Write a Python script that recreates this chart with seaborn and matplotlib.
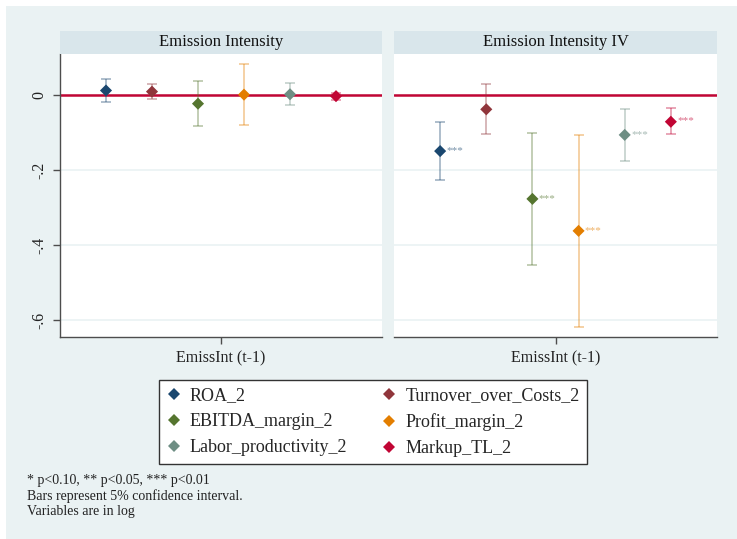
"""
Coefficient plot: emission intensity (t-1) effect on firm outcomes, OLS vs IV
"""
import pandas as pd
import numpy as np
import matplotlib.pyplot as plt
import matplotlib.patches as mpatches
from matplotlib.lines import Line2D
import seaborn as sns

sns.set_theme(style='white')
plt.rcParams['font.family'] = ['Liberation Serif', 'DejaVu Serif']

# --- data ---
outcomes = ['ROA_2', 'Turnover_over_Costs_2', 'EBITDA_margin_2',
            'Profit_margin_2', 'Labor_productivity_2', 'Markup_TL_2']
colors = ['#1a476f', '#90353b', '#55752f', '#e37e00', '#6e8e84', '#c10534']
panels = ['Emission Intensity', 'Emission Intensity IV']

coef_ols = [0.011, 0.008, -0.024, 0.000, 0.001, -0.004]
lo_ols = [-0.019, -0.012, -0.082, -0.081, -0.028, -0.013]
hi_ols = [0.041, 0.028, 0.035, 0.081, 0.030, 0.005]
stars_ols = ['', '', '', '', '', '']

coef_iv = [-0.150, -0.039, -0.277, -0.362, -0.107, -0.072]
lo_iv = [-0.227, -0.105, -0.454, -0.618, -0.176, -0.105]
hi_iv = [-0.074, 0.028, -0.101, -0.108, -0.038, -0.036]
stars_iv = ['***', '', '***', '***', '***', '***']

yticks = [0, -0.2, -0.4, -0.6]
ytick_labels = ['0', '-.2', '-.4', '-.6']
xlabel = 'EmissInt (t-1)'
notes = ['* p<0.10, ** p<0.05, *** p<0.01',
         'Bars represent 5% confidence interval.',
         'Variables are in log']

BG = '#eaf2f3'
STRIP = '#d9e6eb'
AXC = '#4d4d4d'

W, H = 737, 539
fig = plt.figure(figsize=(W / 100, H / 100), dpi=100, facecolor='white')
fig.patches.append(mpatches.Rectangle((6 / W, 0), 1, (H - 6) / H, transform=fig.transFigure,
                                      facecolor=BG, edgecolor='none', zorder=-10))


def px_axes(x0, y0, x1, y1):
    # pixel box (top-left origin) -> figure axes
    return fig.add_axes([x0 / W, 1 - y1 / H, (x1 - x0) / W, (y1 - y0) / H])


panel_data = [(coef_ols, lo_ols, hi_ols, stars_ols), (coef_iv, lo_iv, hi_iv, stars_iv)]
boxes = [(60, 382), (394, 717)]

for i, (title, (coef, lo, hi, stars), (xa, xb)) in enumerate(zip(panels, panel_data, boxes)):
    ax = px_axes(xa, 54, xb, 337)
    ax.set_facecolor('white')
    df = pd.DataFrame({'outcome': outcomes, 'pos': np.arange(len(outcomes)),
                       'coef': coef, 'lo': lo, 'hi': hi, 'stars': stars})

    for yt in yticks:
        ax.axhline(yt, color=BG, lw=1.2, zorder=0)
    ax.axhline(0, color='#c10534', lw=1.8, zorder=1)

    for _, r in df.iterrows():
        c = colors[r['pos']]
        ax.errorbar(r['pos'], r['coef'], yerr=[[r['coef'] - r['lo']], [r['hi'] - r['coef']]],
                    fmt='none', ecolor=c, alpha=0.45, elinewidth=1.1, capsize=3.5,
                    capthick=1.1, zorder=2)
        if r['stars']:
            ax.annotate(r['stars'], (r['pos'], r['coef']), xytext=(4.5, 0.5),
                        textcoords='offset points', fontsize=8, color=c, alpha=0.6,
                        va='center', ha='left', zorder=4)

    sns.scatterplot(data=df, x='pos', y='coef', hue='outcome', palette=colors,
                    hue_order=outcomes, marker='D', s=38, edgecolor='none',
                    legend=False, ax=ax, zorder=3)

    ax.set_xlim(-1, 6)
    ax.set_ylim(-0.644, 0.108)
    ax.set_xticks([2.5])
    ax.set_xticklabels([xlabel], fontsize=11.5, color='#222222')
    ax.set_xlabel('')
    ax.set_ylabel('')
    ax.tick_params(axis='x', length=5, width=1, color=AXC, direction='out',
                   bottom=True, pad=5)
    for s in ['top', 'right']:
        ax.spines[s].set_visible(False)
    ax.spines['bottom'].set_color(AXC)
    ax.spines['bottom'].set_linewidth(1)
    if i == 0:
        ax.set_yticks(yticks)
        ax.set_yticklabels(ytick_labels, rotation=90, va='center', fontsize=11.5,
                           color='#222222')
        ax.tick_params(axis='y', length=5, width=1, color=AXC, direction='out',
                       left=True, pad=4)
        ax.spines['left'].set_color(AXC)
        ax.spines['left'].set_linewidth(1)
    else:
        ax.set_yticks([])
        ax.spines['left'].set_visible(False)

    # strip title
    sax = px_axes(xa, 31, xb, 54)
    sax.set_facecolor(STRIP)
    sax.set_xticks([])
    sax.set_yticks([])
    for s in sax.spines.values():
        s.set_visible(False)
    sax.text(0.5, 0.5, title, ha='center', va='center', fontsize=12,
             color='#111111', transform=sax.transAxes)

# legend
handles = [Line2D([], [], marker='D', color=c, linestyle='none', markersize=6,
                  markeredgewidth=0) for c in colors]
order = [0, 2, 4, 1, 3, 5]
leg = fig.legend([handles[k] for k in order], [outcomes[k] for k in order],
                 ncol=2, loc='center', bbox_to_anchor=(373 / W, 1 - 422 / H),
                 frameon=True, fancybox=False, framealpha=1, fontsize=13,
                 handlelength=0.8, handletextpad=0.5, columnspacing=1.9,
                 labelspacing=0.5, borderpad=0.4, borderaxespad=0,
                 edgecolor='#333333')
leg.get_frame().set_linewidth(1.0)
leg.get_frame().set_facecolor('white')

fig.text(27 / W, 1 - 474 / H, '\n'.join(notes), ha='left', va='top', fontsize=10,
         color='#222222', linespacing=1.2)

fig.savefig('out.png', dpi=100, facecolor=fig.get_facecolor())
